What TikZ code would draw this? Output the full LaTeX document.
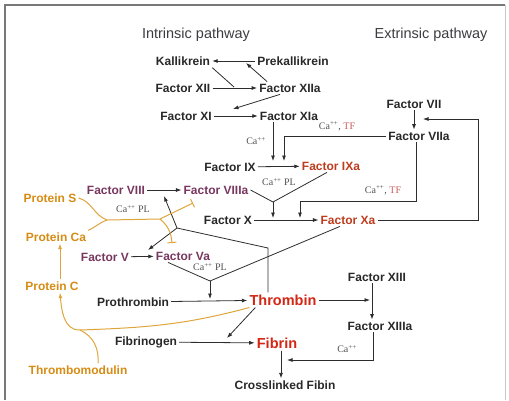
\documentclass[tikz,border=0pt]{standalone}
\usepackage{fontspec}
\setmainfont{Liberation Sans}
\newfontfamily\ionfont{Liberation Serif}
\usepackage{tikz}
\usetikzlibrary{arrows.meta,calc}
\definecolor{darktext}{RGB}{40, 40, 40}
\definecolor{headgray}{RGB}{60, 60, 65}
\definecolor{redfac}{RGB}{190, 60, 30}
\definecolor{redkey}{RGB}{212, 38, 20}
\definecolor{purplefac}{RGB}{120, 55, 95}
\definecolor{orangefac}{RGB}{214, 140, 20}
\definecolor{orangeline}{RGB}{222, 165, 60}
\definecolor{linegray}{RGB}{45, 45, 45}
\definecolor{iongray}{RGB}{80, 80, 80}
\definecolor{tfred}{RGB}{200, 90, 90}
\definecolor{framegray}{RGB}{120, 120, 120}

\begin{document}
\begin{tikzpicture}[x=1pt, y=-1pt,
    every node/.style={inner sep=2pt},
    fac/.style={font=\fontsize{12}{14}\selectfont\bfseries, text=darktext},
    act/.style={fac, text=redfac},
    cof/.style={fac, text=purplefac},
    prot/.style={fac, text=orangefac},
    keyprod/.style={font=\fontsize{14.5}{16}\selectfont\bfseries, text=redkey},
    ion/.style={font=\ionfont\fontsize{10}{11}\selectfont, text=iongray},
    pathhead/.style={font=\fontsize{14.5}{16}\selectfont, text=headgray},
    arr/.style={draw=linegray, line width=0.8pt, -{Latex[length=5.5pt,width=4pt]}},
    cat/.style={draw=linegray, line width=0.8pt},
    oline/.style={draw=orangeline, line width=1pt},
    oarr/.style={oline, -{Latex[length=5.5pt,width=4pt]}},
    inh/.style={oline, -{Bar[width=9pt]}}]
    \useasboundingbox (0,0) rectangle (509,400);

    % frame
    \draw[framegray, line width=1.5pt] (5,400) -- (5,5) -- (505,5);
    \draw[gray!45, line width=1pt] (505,5) -- (505,400);

    % headings
    \node[pathhead] (intr) at (196,35) {Intrinsic pathway};
    \node[pathhead] (extr) at (431,35) {Extrinsic pathway};

    % contact activation
    \node[fac] (kal) at (183,61) {Kallikrein};
    \node[fac] (prekal) at (293,61) {Prekallikrein};
    \node[fac] (f12) at (183,88) {Factor XII};
    \node[fac] (f12a) at (290,88) {Factor XIIa};
    \node[fac] (f11) at (186,116) {Factor XI};
    \node[fac] (f11a) at (289,116) {Factor XIa};

    % extrinsic
    \node[fac] (f7) at (414,104) {Factor VII};
    \node[fac] (f7a) at (419,136) {Factor VIIa};
    \node[ion] (ca1) at (337,126) {Ca\textsuperscript{++}, \textcolor{tfred}{TF}};
    \node[ion] (ca2) at (256,141) {Ca\textsuperscript{++}};

    % tenase
    \node[fac] (f9) at (230,167) {Factor IX};
    \node[act] (f9a) at (331,166) {Factor IXa};
    \node[ion] (ca3) at (279,182) {Ca\textsuperscript{++} PL};
    \node[ion] (ca4) at (383,190) {Ca\textsuperscript{++}, \textcolor{tfred}{TF}};
    \node[cof] (f8) at (116,190) {Factor VIII};
    \node[cof] (f8a) at (216,190) {Factor VIIIa};
    \node[fac] (f10) at (228,220) {Factor X};
    \node[act] (f10a) at (348,220) {Factor Xa};

    % prothrombinase
    \node[ion] (ca5) at (133,209) {Ca\textsuperscript{++} PL};
    \node[cof] (f5) at (105,257) {Factor V};
    \node[cof] (f5a) at (183,256) {Factor Va};
    \node[ion] (ca6) at (210,267) {Ca\textsuperscript{++} PL};
    \node[fac] (prothr) at (133,302) {Prothrombin};
    \node[keyprod] (thr) at (283,300) {Thrombin};

    % protein C system
    \node[prot] (protS) at (50,198) {Protein S};
    \node[prot] (protCa) at (56,237) {Protein Ca};
    \node[prot] (protC) at (52,286) {Protein C};
    \node[prot] (tmod) at (78,370) {Thrombomodulin};

    % fibrin
    \node[fac] (f13) at (377,277) {Factor XIII};
    \node[fac] (f13a) at (380,326) {Factor XIIIa};
    \node[fac] (fgen) at (146,342) {Fibrinogen};
    \node[keyprod] (fib) at (277,343) {Fibrin};
    \node[ion] (ca7) at (347,349) {Ca\textsuperscript{++}};
    \node[fac] (xfib) at (285,385) {Crosslinked Fibin};

    % join points on the arrows
    \coordinate (mk) at (246,63);
    \coordinate (m12) at (234,87);
    \coordinate (m11) at (233,109);
    \coordinate (m9a) at (273,161);
    \coordinate (m9b) at (284,161);
    \coordinate (m7) at (423,119);
    \coordinate (r7) at (478,119);
    \coordinate (c7) at (416,201);
    \coordinate (j8) at (273,202);
    \coordinate (m10a) at (273,218);
    \coordinate (m10b) at (300,218);
    \coordinate (t1) at (268,248);
    \coordinate (t2) at (177,228);
    \coordinate (m8) at (164,196);
    \coordinate (m5) at (148,250);
    \coordinate (j5) at (210,281);
    \coordinate (m2) at (210,299);
    \coordinate (j3) at (107,220);
    \coordinate (j4) at (160,219);
    \coordinate (b8) at (193,203);
    \coordinate (b5) at (172,243);
    \coordinate (jm) at (80,330);
    \coordinate (m13) at (227,338);
    \coordinate (m14) at (370,300);
    \coordinate (m15) at (287,360);

    % contact activation
    \draw[arr] (prekal) -- (kal);
    \draw[cat] (kal.south east) -- (m12);
    \draw[arr] (f12) -- (f12a);
    \draw[arr] ([xshift=10]f12a.north west) -- (mk);
    \draw[arr] ([xshift=-10]f12a.south) -- (m11);
    \draw[arr] (f11) -- (f11a);

    % to factor IXa
    \draw[arr] (m9a |- f11a.south) -- (m9a);
    \draw[arr] (f7a.west) -| (m9b);
    \draw[arr] (f9) -- (f9a);
    \draw[arr] (f7.south) -- (f7.south |- f7a.north);

    % to factor Xa
    \draw[cat] (f8a.east) -- (j8);
    \draw[cat] ([xshift=-4]f9a.south) -- (j8);
    \draw[arr] (j8) -- (m10a);
    \draw[arr] (c7 |- f7a.south) -- (c7) -| (m10b);
    \draw[arr] (f10) -- (f10a);
    \draw[arr] (f10a.east) -| (r7) -- (m7);

    % cofactors
    \draw[arr] (f8) -- (f8a);
    \draw[arr] (f5) -- (f5a);
    \draw[cat] (t1 |- thr.north) -- (t1) -- (t2);
    \draw[arr] (t2) -- (m8);
    \draw[arr] (t2) -- (m5);

    % to thrombin
    \draw[cat] ([xshift=-15]f5a.south) -- (j5);
    \draw[cat] ([xshift=-8]f10a.south) -- (j5);
    \draw[arr] (j5) -- (m2);
    \draw[arr] (prothr) -- (thr);

    % protein C system
    \draw[oline] (protS.east) to[out=-15,in=160] (j3);
    \draw[oline] (protCa.north east) to[out=25,in=200] (j3);
    \draw[oline] (j3) -- (j4);
    \draw[inh] (j4) -- (b8);
    \draw[inh] (j4) to[out=-40,in=95] (b5);
    \draw[oarr] ([xshift=8]protC.north) -- ([xshift=8]protC.north |- protCa.south);
    \draw[oarr] ([xshift=2]thr.south west) to[out=195,in=2] (jm) to[out=182,in=-85] ([xshift=8]protC.south);
    \draw[oline] ([xshift=20]tmod.north) to[out=85,in=-25] (jm);

    % fibrin
    \draw[arr] ([xshift=8]thr.south west) -- (m13);
    \draw[arr] (fgen) -- (fib);
    \draw[arr] (thr) -- (m14);
    \draw[arr] ([xshift=-5]f13.south) -- ([xshift=-5]f13.south |- f13a.north);
    \draw[arr] ([xshift=-7]f13a.south) |- (m15);
    \draw[arr] ([xshift=4]fib.south) -- ([xshift=4]fib.south |- xfib.north);
\end{tikzpicture}
\end{document}
